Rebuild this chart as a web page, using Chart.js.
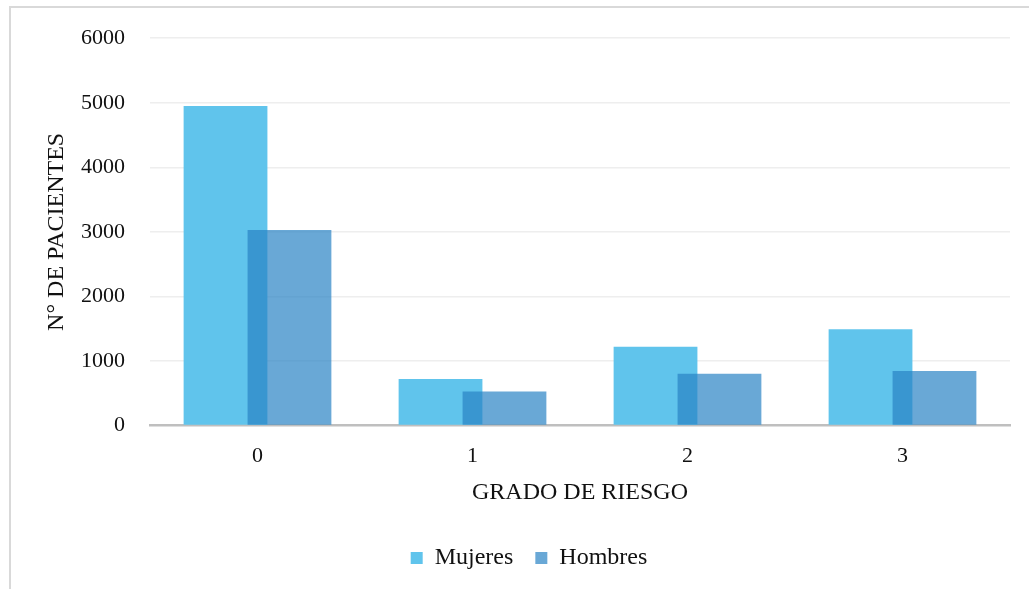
<!DOCTYPE html>
<html>
<head>
<meta charset="utf-8">
<script src="https://cdn.jsdelivr.net/npm/chart.js@4.4.0/dist/chart.umd.min.js"></script>
<style>
  html, body { margin: 0; padding: 0; background: #ffffff; overflow: hidden; width: 1029px; height: 589px; }
  #wrap { position: absolute; left: 0; top: 0; width: 1058px; height: 600px; }
  #frame { position: absolute; left: 9px; top: 6px; width: 1100px; height: 700px;
           border-left: 2px solid #d9d9d9; border-top: 2px solid #d9d9d9; pointer-events: none; }
</style>
</head>
<body>
<div id="wrap"><canvas id="chart" width="1058" height="600"></canvas></div>
<div id="frame"></div>
<script>
// Risk grade categories and patient counts by sex
const categories = ['0', '1', '2', '3'];
const mujeres = [4950, 720, 1220, 1490];
const hombres = [3030, 525, 800, 845];
const yTicks = [0, 1000, 2000, 3000, 4000, 5000, 6000];

const FONT = "'Liberation Serif', 'Times New Roman', serif";

// Draw the second series after the first so it sits on top where the bars overlap
let lateDraw = false;
const overlapOrder = {
  id: 'overlapOrder',
  beforeDatasetDraw(chart, args) {
    if (args.index === 1 && !lateDraw) return false;
  },
  afterDatasetsDraw(chart) {
    lateDraw = true;
    chart.getDatasetMeta(1).controller.draw();
    lateDraw = false;
  }
};

new Chart(document.getElementById('chart'), {
  type: 'bar',
  data: {
    labels: categories,
    datasets: [
      {
        label: 'Mujeres',
        data: mujeres,
        backgroundColor: 'rgb(96,196,236)',
        borderWidth: 0,
        categoryPercentage: 0.595,
        barPercentage: 1.31
      },
      {
        label: 'Hombres',
        data: hombres,
        backgroundColor: 'rgba(42,131,196,0.7)',
        borderWidth: 0,
        categoryPercentage: 0.595,
        barPercentage: 1.31
      }
    ]
  },
  options: {
    responsive: false,
    animation: false,
    layout: { padding: { left: 48, right: 48, top: 34, bottom: 20 } },
    plugins: {
      tooltip: { enabled: false },
      legend: {
        position: 'bottom',
        labels: {
          font: { family: FONT, size: 24 },
          color: '#111',
          boxWidth: 12,
          boxHeight: 12,
          padding: 22
        }
      }
    },
    scales: {
      x: {
        grid: { display: false, drawTicks: false },
        border: { display: true, color: '#bfbfbf', width: 2.5 },
        ticks: { font: { family: FONT, size: 22 }, color: '#111', padding: 18 },
        title: {
          display: true,
          text: 'GRADO DE RIESGO',
          font: { family: FONT, size: 24 },
          color: '#111',
          padding: { top: 17, bottom: 17 }
        },
        afterFit(scale) { scale.height = 98.5; }
      },
      y: {
        min: 0,
        max: 6000,
        afterBuildTicks(scale) { scale.ticks = yTicks.map(v => ({ value: v })); },
        grid: {
          color: ctx => (ctx.tick && ctx.tick.value === 0) ? 'rgba(0,0,0,0)' : '#eeeeee',
          lineWidth: 1.5,
          drawTicks: false
        },
        border: { display: false },
        ticks: {
          font: { family: FONT, size: 22 },
          color: '#111',
          padding: 25,
          callback: v => String(v)
        },
        title: {
          display: true,
          text: 'N° DE PACIENTES',
          font: { family: FONT, size: 24 },
          color: '#111',
          padding: { top: -6, bottom: -6 }
        },
        afterFit(scale) { scale.width = 102; }
      }
    }
  },
  plugins: [overlapOrder]
});
</script>
</body>
</html>
